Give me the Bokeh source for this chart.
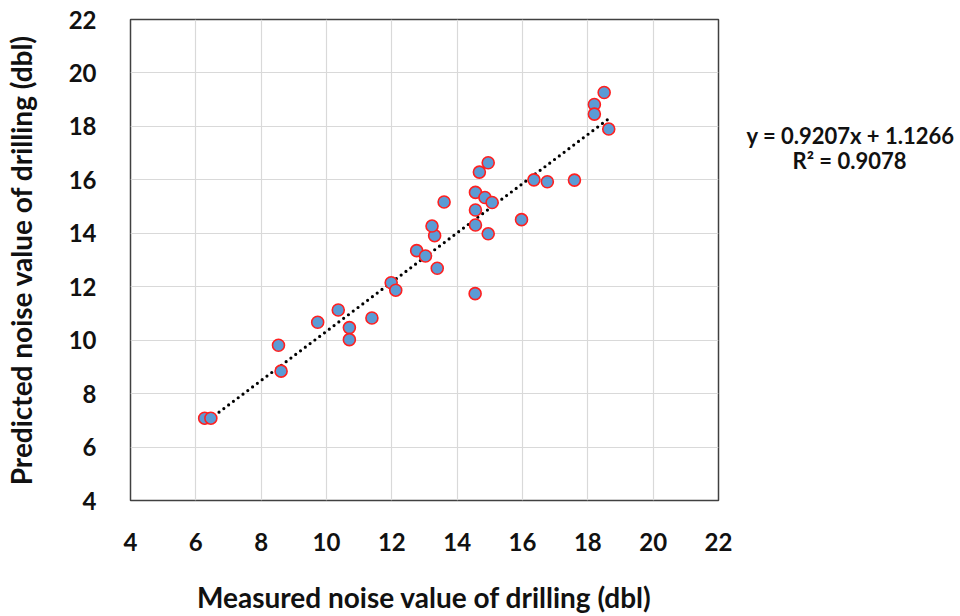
from bokeh.plotting import figure
from bokeh.layouts import row
from bokeh.models import Range1d, FixedTicker
from bokeh.core.properties import value
from bokeh.embed import file_html
from bokeh.resources import INLINE
import numpy as np

# Measured vs predicted drilling noise (dbl)
measured = [6.27, 6.46, 8.53, 8.61, 9.73, 10.36, 10.70, 10.70, 11.39, 11.98,
            12.12, 12.76, 13.03, 13.39, 13.31, 13.23, 13.60, 14.55, 14.68, 14.95,
            14.56, 14.85, 15.07, 14.56, 14.56, 14.95, 15.97, 16.35, 16.76, 17.59,
            18.20, 18.20, 18.50, 18.64]
predicted = [7.08, 7.08, 9.81, 8.84, 10.67, 11.13, 10.47, 10.02, 10.83, 12.15,
             11.87, 13.35, 13.15, 12.69, 13.91, 14.27, 15.17, 11.74, 16.29, 16.64,
             15.53, 15.34, 15.15, 14.87, 14.31, 13.98, 14.51, 16.00, 15.93, 15.99,
             18.82, 18.46, 19.27, 17.90]

# Linear trendline coefficients
slope = 0.9207
intercept = 1.1266
r_squared = 0.9078

ticks = [4, 6, 8, 10, 12, 14, 16, 18, 20, 22]

FONT = "Lato"

p = figure(width=740, height=616, output_backend="svg", toolbar_location=None,
           x_range=Range1d(4, 22), y_range=Range1d(4, 22),
           min_border_left=130, min_border_right=22,
           min_border_top=19, min_border_bottom=114)

p.outline_line_color = "#404040"
p.outline_line_width = 1.5
p.background_fill_color = "white"
p.border_fill_color = "white"

for ax in (p.xaxis[0], p.yaxis[0]):
    ax.ticker = FixedTicker(ticks=ticks)
    ax.axis_line_color = None
    ax.major_tick_line_color = None
    ax.minor_tick_line_color = None
    ax.major_label_text_font = FONT
    ax.major_label_text_font_style = "bold"
    ax.major_label_text_font_size = "24px"
    ax.major_label_text_color = "#111111"
    ax.axis_label_text_font = FONT
    ax.axis_label_text_font_style = "bold"
    ax.axis_label_text_color = "#111111"
    ax.axis_label_text_font_size = "28px"

p.xaxis.major_label_standoff = 26
p.xaxis.axis_label = "Measured noise value of drilling (dbl)"
p.xaxis.axis_label_standoff = 26

p.yaxis.major_label_standoff = 28
p.yaxis.axis_label = "Predicted noise value of drilling (dbl)"
p.yaxis.axis_label_standoff = 28

p.xgrid.ticker = FixedTicker(ticks=ticks)
p.ygrid.ticker = FixedTicker(ticks=ticks)
p.xgrid.grid_line_color = "#D9D9D9"
p.ygrid.grid_line_color = "#D9D9D9"
p.xgrid.grid_line_width = 1.2
p.ygrid.grid_line_width = 1.2

# Trendline across the measured span
x_fit = np.array([min(measured), max(measured)])
y_fit = slope * x_fit + intercept
p.line(x_fit, y_fit, line_color="black", line_width=3.2,
       line_dash="0 6", line_cap="round")

p.scatter(measured, predicted, size=12, fill_color="#5B9BD5",
          line_color="#FF2020", line_width=1.6)

# Side panel carrying the trendline equation (pixel coordinates, y down)
side = figure(width=220, height=616, output_backend="svg", toolbar_location=None,
              x_range=Range1d(740, 960), y_range=Range1d(616, 0),
              x_axis_type=None, y_axis_type=None,
              min_border=0)
side.outline_line_color = None
side.grid.visible = False
side.background_fill_color = "white"
side.border_fill_color = "white"

eq_lines = [f"y = {slope}x + {intercept}", f"R\u00b2 = {r_squared}"]
side.text(x=[850, 849], y=[149, 180], text=eq_lines,
          text_font=value(FONT), text_font_style="bold", text_font_size="22px",
          text_align="center", text_baseline="middle", text_color="#111111")

layout = row(p, side, spacing=0)

open("out.html", "w").write(file_html(layout, INLINE))
